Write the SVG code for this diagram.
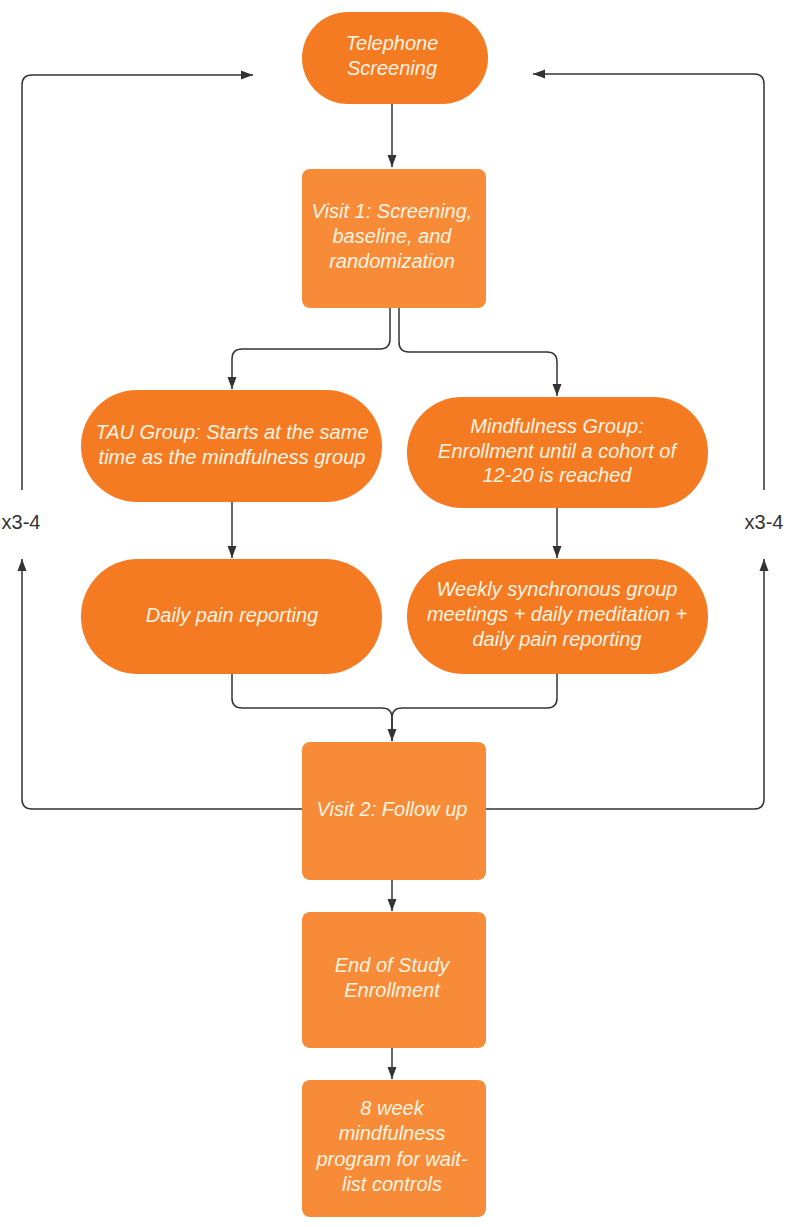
<svg xmlns="http://www.w3.org/2000/svg" width="790" height="1227" viewBox="0 0 790 1227">
<defs>
<marker id="ah" markerUnits="userSpaceOnUse" markerWidth="12" markerHeight="10" refX="12" refY="5" orient="auto">
<path d="M0,0.5 L12,5 L0,9.5 z" fill="#333"/>
</marker>
<style>
.stad{fill:#F57B22;}
.box{fill:#F78B37;}
.t{font-family:"Liberation Sans",Arial,sans-serif;font-style:italic;font-size:20px;fill:#FFF3E3;text-anchor:middle;}
.lbl{font-family:"Liberation Sans",Arial,sans-serif;font-size:20px;fill:#333;text-anchor:middle;}
.c{fill:none;stroke:#333;stroke-width:1.5;}
</style>
</defs>
<rect width="790" height="1227" fill="#fff"/>
<g id="connectors">
<path class="c" d="M392 104 V167" marker-end="url(#ah)"/>
<path class="c" d="M390 308 V339 Q390 349 380 349 H242 Q232 349 232 359 V389" marker-end="url(#ah)"/>
<path class="c" d="M399 308 V342 Q399 352 409 352 H547 Q557 352 557 362 V396" marker-end="url(#ah)"/>
<path class="c" d="M232 502 V558" marker-end="url(#ah)"/>
<path class="c" d="M557 508 V558" marker-end="url(#ah)"/>
<path class="c" d="M232 674 V698 Q232 708 242 708 H382 Q392 708 392 718 V741" marker-end="url(#ah)"/>
<path class="c" d="M557 674 V698 Q557 708 547 708 H402 Q392 708 392 718 V741"/>
<path class="c" d="M392 880 V911" marker-end="url(#ah)"/>
<path class="c" d="M392 1048 V1079" marker-end="url(#ah)"/>
<path class="c" d="M302 809 H32 Q22 809 22 799 V559" marker-end="url(#ah)"/>
<path class="c" d="M22 490 V85 Q22 75 32 75 H253" marker-end="url(#ah)"/>
<path class="c" d="M486 809 H754 Q764 809 764 799 V559" marker-end="url(#ah)"/>
<path class="c" d="M764 490 V84 Q764 74 754 74 H533" marker-end="url(#ah)"/>
<text class="lbl" x="21" y="529">x3-4</text>
<text class="lbl" x="764" y="529">x3-4</text>
</g>
<g id="telephone">
<rect class="stad" x="302" y="12" width="186" height="92" rx="46"/>
<text class="t" x="392" y="50">Telephone</text>
<text class="t" x="392" y="75">Screening</text>
</g>
<g id="visit1">
<rect class="box" x="302" y="169" width="184" height="139" rx="8"/>
<text class="t" x="392" y="218">Visit 1: Screening,</text>
<text class="t" x="392" y="243">baseline, and</text>
<text class="t" x="392" y="268">randomization</text>
</g>
<g id="tau">
<rect class="stad" x="81" y="390" width="301" height="112" rx="56"/>
<text class="t" x="232" y="439">TAU Group: Starts at the same</text>
<text class="t" x="232" y="464">time as the mindfulness group</text>
</g>
<g id="mindfulness">
<rect class="stad" x="407" y="397" width="301" height="111" rx="55"/>
<text class="t" x="557" y="433">Mindfulness Group:</text>
<text class="t" x="557" y="458">Enrollment until a cohort of</text>
<text class="t" x="557" y="482">12-20 is reached</text>
</g>
<g id="daily">
<rect class="stad" x="81" y="559" width="301" height="115" rx="57"/>
<text class="t" x="232" y="622">Daily pain reporting</text>
</g>
<g id="weekly">
<rect class="stad" x="407" y="559" width="301" height="115" rx="57"/>
<text class="t" x="557" y="596">Weekly synchronous group</text>
<text class="t" x="557" y="621">meetings + daily meditation +</text>
<text class="t" x="557" y="646">daily pain reporting</text>
</g>
<g id="visit2">
<rect class="box" x="302" y="742" width="184" height="138" rx="8"/>
<text class="t" x="392" y="816">Visit 2: Follow up</text>
</g>
<g id="end">
<rect class="box" x="302" y="912" width="184" height="136" rx="8"/>
<text class="t" x="392" y="972">End of Study</text>
<text class="t" x="392" y="997">Enrollment</text>
</g>
<g id="program">
<rect class="box" x="302" y="1080" width="184" height="137" rx="8"/>
<text class="t" x="392" y="1115">8 week</text>
<text class="t" x="392" y="1140">mindfulness</text>
<text class="t" x="392" y="1166">program for wait-</text>
<text class="t" x="392" y="1191">list controls</text>
</g>
</svg>
